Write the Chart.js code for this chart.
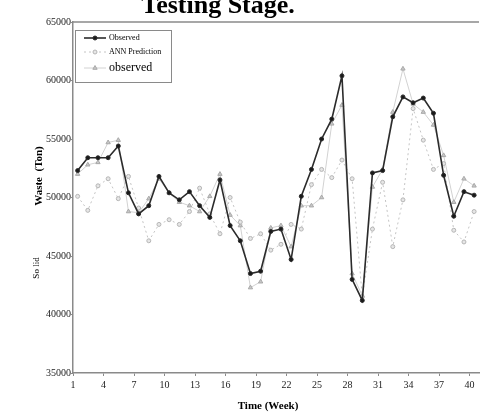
<!DOCTYPE html>
<html>
<head>
  <meta charset="UTF-8">
  <title>Testing Stage</title>
  <style>
    html, body { margin: 0; padding: 0; background: #fff; }
    #wrap { width: 484px; height: 414px; }
  </style>
</head>
<body>
<div id="wrap">
  <canvas id="myChart" width="484" height="414"></canvas>
</div>
<script src="https://cdn.jsdelivr.net/npm/chart.js"></script>
<script>
// weeks 1..40
const weeks = [];
for (let i = 1; i <= 40; i++) weeks.push(i);

const tickWeeks = [1, 4, 7, 10, 13, 16, 19, 22, 25, 28, 31, 34, 37, 40];

const observed = [52300, 53400, 53400, 53400, 54400, 50400, 48600, 49300, 51800, 50400,
                  49800, 50500, 49300, 48300, 51500, 47600, 46300, 43500, 43700, 47100,
                  47300, 44700, 50100, 52400, 55000, 56700, 60400, 43000, 41200, 52100,
                  52300, 56900, 58600, 58100, 58500, 57200, 51900, 48400, 50500, 50200];

const annPrediction = [50100, 48900, 51000, 51600, 49900, 51800, 49100, 46300, 47700, 48100,
                       47700, 48800, 50800, 48600, 46900, 50000, 47900, 46500, 46900, 45500,
                       46000, 47700, 47300, 51100, 52400, 51700, 53200, 51600, 41500, 47300,
                       51300, 45800, 49800, 57600, 54900, 52400, 52900, 47200, 46200, 48800];

const observed2 = [52000, 52800, 53000, 54700, 54900, 48800, 48700, 49900, 51600, 50400,
                   49600, 49300, 48800, 50100, 52000, 48500, 47600, 42300, 42800, 47400,
                   47600, 45800, 49300, 49300, 50000, 56300, 57900, 43500, 41600, 50900,
                   52400, 57300, 61000, 58000, 57300, 56200, 53600, 49600, 51600, 51000];

const yTicks = [35000, 40000, 45000, 50000, 55000, 60000, 65000];

const toXY = arr => arr.map((v, i) => ({ x: weeks[i], y: v }));

// the source axis puts its ticks a little left of the points
const TICK_SHIFT = 0.45;

const serif = '"Liberation Serif", "DejaVu Serif", serif';

const extras = {
  id: 'extras',
  afterDraw(chart) {
    const ctx = chart.ctx;
    const a = chart.chartArea;
    ctx.save();

    // top border line
    ctx.strokeStyle = '#8a8a8a';
    ctx.lineWidth = 1.5;
    ctx.beginPath();
    ctx.moveTo(a.left, a.top);
    ctx.lineTo(a.right, a.top);
    ctx.stroke();

    // title, cut off at the top edge
    ctx.fillStyle = '#000';
    ctx.font = 'bold 26px ' + serif;
    ctx.textAlign = 'center';
    ctx.textBaseline = 'alphabetic';
    ctx.fillText('Testing Stage.', 218, 13);

    // y axis title
    ctx.save();
    ctx.translate(39, 0);
    ctx.rotate(-Math.PI / 2);
    ctx.font = 'bold 11px ' + serif;
    ctx.textBaseline = 'middle';
    ctx.fillText('Waste  (Ton)', -176, 0);
    ctx.font = '9px ' + serif;
    ctx.fillText('So lid', -268, -2);
    ctx.restore();

    // x axis title
    ctx.font = 'bold 11px ' + serif;
    ctx.textAlign = 'center';
    ctx.fillText('Time (Week)', 268, 409);

    // legend box
    ctx.strokeStyle = '#8a8a8a';
    ctx.lineWidth = 1;
    ctx.strokeRect(75.5, 30.5, 96, 52);

    const items = [
      { label: 'Observed', ds: 0, y: 38, size: 8 },
      { label: 'ANN Prediction', ds: 1, y: 52, size: 8 },
      { label: 'observed', ds: 2, y: 68, size: 12 }
    ];
    items.forEach(it => {
      const d = chart.data.datasets[it.ds];
      ctx.save();
      ctx.strokeStyle = d.borderColor;
      ctx.lineWidth = d.borderWidth;
      ctx.setLineDash(d.borderDash || []);
      ctx.beginPath();
      ctx.moveTo(84, it.y);
      ctx.lineTo(106, it.y);
      ctx.stroke();
      ctx.setLineDash([]);
      ctx.fillStyle = d.backgroundColor;
      ctx.strokeStyle = d.pointBorderColor || d.borderColor;
      ctx.lineWidth = 1;
      Chart.helpers.drawPoint(ctx, {
        pointStyle: d.pointStyle,
        radius: d.pointRadius,
        borderWidth: 1
      }, 95, it.y);
      ctx.fillStyle = '#000';
      ctx.font = it.size + 'px ' + serif;
      ctx.textAlign = 'left';
      ctx.textBaseline = 'middle';
      ctx.fillText(it.label, 109, it.y);
      ctx.restore();
    });

    ctx.restore();
  }
};

const config = {
  type: 'line',
  data: {
    datasets: [{
      label: 'Observed',
      data: toXY(observed),
      borderColor: '#2b2b2b',
      backgroundColor: '#1a1a1a',
      borderWidth: 1.6,
      pointStyle: 'circle',
      pointRadius: 2,
      pointBorderWidth: 1,
      tension: 0
    }, {
      label: 'ANN Prediction',
      data: toXY(annPrediction),
      borderColor: '#c4c4c4',
      backgroundColor: '#e6e6e6',
      borderWidth: 1,
      borderDash: [2, 3],
      pointStyle: 'circle',
      pointRadius: 2,
      pointBorderWidth: 1,
      pointBorderColor: '#b5b5b5',
      tension: 0
    }, {
      label: 'observed',
      data: toXY(observed2),
      borderColor: '#d2d2d2',
      backgroundColor: '#c8c8c8',
      borderWidth: 1,
      pointStyle: 'triangle',
      pointRadius: 2.5,
      pointBorderWidth: 1,
      pointBorderColor: '#a8a8a8',
      tension: 0
    }]
  },
  options: {
    responsive: false,
    animation: false,
    events: [],
    layout: { padding: { top: 22, right: 0, left: 0, bottom: 0 } },
    plugins: {
      legend: { display: false },
      title: { display: false },
      tooltip: { enabled: false }
    },
    scales: {
      x: {
        type: 'linear',
        min: 1 - TICK_SHIFT - 0.005,
        max: 40.48,
        afterBuildTicks: scale => {
          scale.ticks = tickWeeks.map(w => ({ value: w - TICK_SHIFT }));
        },
        afterFit: scale => { scale.height = 41; },
        border: { display: true, color: '#8a8a8a', width: 1.5 },
        grid: { drawOnChartArea: false, drawTicks: true, tickLength: 3, color: '#8a8a8a' },
        ticks: {
          autoSkip: false,
          maxRotation: 0,
          padding: 3,
          color: '#222',
          font: { family: serif, size: 10 },
          callback: v => String(Math.round(v + TICK_SHIFT))
        }
      },
      y: {
        min: 35000,
        max: 65000,
        afterBuildTicks: scale => {
          scale.ticks = yTicks.map(v => ({ value: v }));
        },
        afterFit: scale => { scale.width = 73; },
        border: { display: true, color: '#8a8a8a', width: 1.5 },
        grid: { drawOnChartArea: false, drawTicks: true, tickLength: 2, color: '#8a8a8a' },
        ticks: {
          padding: 0,
          color: '#222',
          font: { family: serif, size: 10 },
          callback: v => String(v)
        }
      }
    }
  },
  plugins: [extras]
};

const myChart = new Chart(document.getElementById('myChart'), config);
</script>
</body>
</html>
